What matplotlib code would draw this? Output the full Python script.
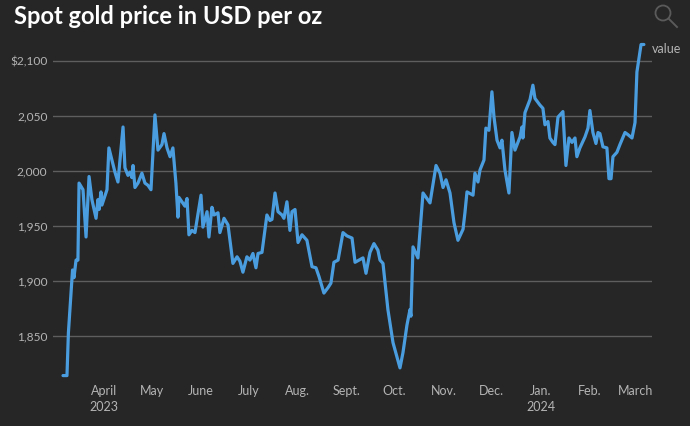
import matplotlib
matplotlib.use("Agg")
import matplotlib.pyplot as plt
import matplotlib.patches as mpatches
from matplotlib.lines import Line2D
import pandas as pd

# ---- data -------------------------------------------------------------
base_date = "2023-04-01"
# days since base_date
day_offsets = [
    -25.8, -23.3, -22.4, -20.8, -19.8, -18.9, -17.6, -16.4, -15.7, -13.2,
    -11.3, -9.4, -7.6, -5.0, -3.8, -3.1, -1.9, -1.3, 1.9, 3.1,
    5.0, 6.9, 8.8, 12.0, 13.2, 15.1, 16.4, 17.6, 18.3, 19.5,
    21.4, 23.9, 25.8, 27.7, 29.6, 32.1, 34.0, 36.5, 37.8, 39.7,
    41.6, 43.4, 45.3, 46.6, 47.2, 49.1, 51.0, 52.3, 53.5, 55.4,
    57.3, 61.1, 62.3, 64.9, 66.1, 68.0, 69.3, 71.8, 73.0, 75.6,
    78.1, 81.2, 83.8, 85.6, 87.5, 90.0, 91.9, 93.8, 95.7, 97.0,
    99.5, 102.6, 104.5, 105.8, 107.7, 109.6, 112.1, 113.3, 115.2, 117.1,
    118.4, 120.3, 122.2, 124.7, 127.8, 131.0, 133.5, 135.4, 138.5, 141.1,
    142.9, 144.8, 147.4, 150.5, 153.0, 156.2, 158.1, 160.6, 163.1, 165.0,
    167.5, 170.0, 172.5, 173.8, 175.7, 178.8, 182.0, 186.4, 188.3, 190.8,
    192.7, 193.3, 194.6, 197.7, 200.9, 205.3, 209.1, 211.6, 213.5, 215.4,
    217.9, 220.4, 222.9, 226.1, 227.3, 228.6, 232.4, 233.6, 235.5, 236.8,
    239.3, 240.5, 242.4, 244.3, 245.6, 247.5, 249.4, 250.6, 252.5, 255.0,
    256.9, 258.8, 262.0, 263.2, 263.8, 265.1, 268.3, 270.1, 271.4, 274.5,
    276.4, 277.7, 279.6, 280.8, 282.7, 284.0, 285.9, 289.0, 290.9, 292.8,
    294.7, 296.6, 297.8, 299.7, 302.9, 304.8, 306.0, 307.9, 309.8, 311.1,
    312.3, 314.2, 316.7, 318.0, 319.3, 320.5, 323.0, 324.9, 328.1, 330.0,
    332.5, 334.4, 335.6, 338.2, 340.0,
]
prices = [
    1814, 1814, 1853, 1889, 1910, 1903, 1919, 1919, 1989, 1983,
    1940, 1995, 1974, 1957, 1974, 1965, 1981, 1969, 1983, 2021,
    2010, 1999, 1990, 2040, 2003, 1996, 1999, 1994, 2005, 1985,
    1989, 1998, 1989, 1987, 1983, 2051, 2019, 2024, 2034, 2021,
    2013, 2021, 1989, 1958, 1976, 1972, 1968, 1975, 1942, 1946,
    1944, 1978, 1949, 1963, 1940, 1967, 1960, 1962, 1944, 1957,
    1951, 1916, 1922, 1918, 1908, 1922, 1919, 1925, 1912, 1925,
    1926, 1960, 1955, 1956, 1980, 1963, 1960, 1957, 1972, 1946,
    1963, 1965, 1935, 1942, 1937, 1913, 1912, 1904, 1889, 1894,
    1898, 1917, 1919, 1944, 1941, 1939, 1917, 1919, 1921, 1907,
    1926, 1934, 1928, 1919, 1916, 1874, 1844, 1821, 1835, 1860,
    1874, 1868, 1931, 1921, 1980, 1971, 2005, 1998, 1985, 1992,
    1980, 1953, 1937, 1947, 1962, 1981, 1978, 1998, 1990, 2001,
    2010, 2039, 2037, 2072, 2049, 2028, 2021, 2028, 2001, 1980,
    2035, 2019, 2031, 2040, 2030, 2053, 2065, 2078, 2066, 2060,
    2057, 2042, 2045, 2030, 2026, 2024, 2049, 2054, 2005, 2030,
    2026, 2030, 2013, 2021, 2031, 2039, 2055, 2035, 2025, 2035,
    2034, 2022, 2021, 1993, 1993, 2013, 2017, 2024, 2035, 2033,
    2030, 2044, 2090, 2115, 2115,
]
series_name = "value"
title = "Spot gold price in USD per oz"

tick_dates = ["2023-04-01", "2023-05-01", "2023-06-01", "2023-07-01",
              "2023-08-01", "2023-09-01", "2023-10-01", "2023-11-01",
              "2023-12-01", "2024-01-01", "2024-02-01", "2024-03-01"]
tick_labels = ["April\n2023", "May", "June", "July", "Aug.", "Sept.",
               "Oct.", "Nov.", "Dec.", "Jan.\n2024", "Feb.", "March"]
y_ticks = [1850, 1900, 1950, 2000, 2050, 2100]
y_tick_labels = ["1,850", "1,900", "1,950", "2,000", "2,050", "$2,100"]

# ---- style ------------------------------------------------------------
BG = "#262626"
LINE = "#4a9ee0"
GRID = "#5e5e5e"
TXT = "#b4b4b4"
FONT = ["Lato", "DejaVu Sans"]

plt.rcParams["font.family"] = FONT

W, H = 690, 426
fig = plt.figure(figsize=(W / 100, H / 100), dpi=100, facecolor=BG)
left, right, top, bottom = 53, 652, 40, 378
ax = fig.add_axes([left / W, 1 - bottom / H, (right - left) / W, (bottom - top) / H])
ax.set_facecolor(BG)

base = pd.Timestamp(base_date)
dates = base + pd.to_timedelta(day_offsets, unit="D")

ax.plot(dates, prices, color=LINE, lw=2.3, solid_joinstyle="round",
        solid_capstyle="round", zorder=3)

ax.set_xlim(base + pd.Timedelta(days=-32.1), base + pd.Timedelta(days=345.1))
ax.set_ylim(1811.8, 2119.1)

ax.set_yticks(y_ticks)
ax.set_yticklabels(y_tick_labels)
ax.set_xticks(pd.to_datetime(tick_dates))
ax.set_xticklabels(tick_labels, linespacing=1.45)

ax.tick_params(axis="y", length=0, pad=4, labelsize=8.6, colors=TXT)
ax.tick_params(axis="x", length=0, pad=5, labelsize=9, colors=TXT)
for lab in ax.get_xticklabels():
    lab.set_verticalalignment("top")

ax.grid(axis="y", color=GRID, lw=1)
ax.grid(axis="x", visible=False)
ax.set_axisbelow(True)
for s in ax.spines.values():
    s.set_visible(False)

ax.annotate(series_name, xy=(dates[-1], prices[-1]), xytext=(8, -4),
            textcoords="offset pixels", ha="left", va="center",
            fontsize=9, color=TXT)

fig.text(14 / W, 1 - 16 / H, title, ha="left", va="center",
         fontsize=17, fontweight="bold", color="white")

# search icon
circ = mpatches.Circle((663 / 100, (H - 13) / 100), 0.075, fill=False,
                       ec="#5a5a5a", lw=1.3, transform=fig.dpi_scale_trans)
fig.add_artist(circ)
fig.add_artist(Line2D([669 / 100, 677 / 100], [(H - 19) / 100, (H - 27) / 100],
                      color="#5a5a5a", lw=1.4, transform=fig.dpi_scale_trans))

fig.savefig("out.png", dpi=100, facecolor=BG)
